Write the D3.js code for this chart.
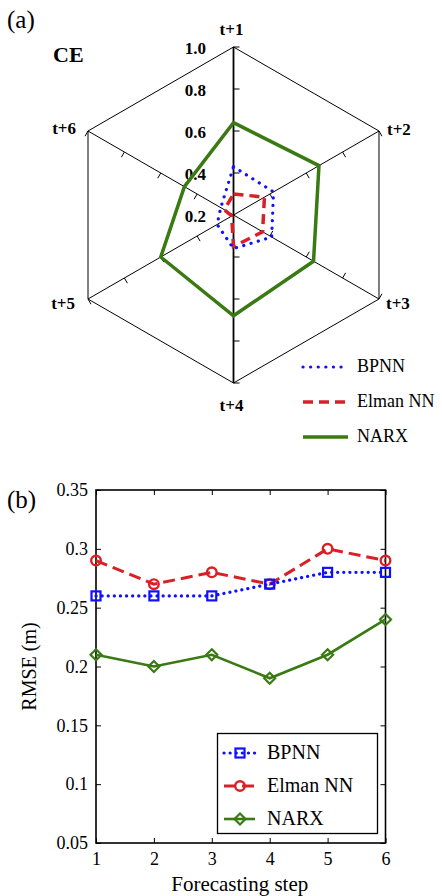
<!DOCTYPE html>
<html>
<head>
<meta charset="utf-8">
<script src="https://cdn.jsdelivr.net/npm/d3@7"></script>
<style>
  body { margin: 0; background: #fff; }
  svg text { font-family: "Liberation Serif", "Times New Roman", serif; fill: #000; }
</style>
</head>
<body>
<svg id="chart" width="442" height="896"></svg>
<script>
// ---- data (a) : CE radar
var radarSteps = ["t+1", "t+2", "t+3", "t+4", "t+5", "t+6"];
var ceBPNN  = [0.43, 0.42, 0.41, 0.36, 0.29, 0.27];
var ceElman = [0.30, 0.37, 0.36, 0.35, 0.21, 0.25];
var ceNARX  = [0.64, 0.67, 0.64, 0.68, 0.60, 0.47];
var radarTicks = [0.2, 0.4, 0.6, 0.8, 1.0];

// ---- data (b) : RMSE lines
var steps = [1, 2, 3, 4, 5, 6];
var rmseBPNN  = [0.26, 0.26, 0.26, 0.27, 0.28, 0.28];
var rmseElman = [0.29, 0.27, 0.28, 0.27, 0.30, 0.29];
var rmseNARX  = [0.21, 0.20, 0.21, 0.19, 0.21, 0.24];
var yTicks = [0.05, 0.1, 0.15, 0.2, 0.25, 0.3, 0.35];
var names = ["BPNN", "Elman NN", "NARX"];

var BLUE = "#1010ff", RED = "#d92027", GREEN = "#3a7a12";

var svg = d3.select("#chart");

/* ================= (a) radar ================= */
var cx = 233.5, cy = 215, R = 168;
var r = d3.scaleLinear().domain([0.2, 1.0]).range([0, R]);
var ang = function(i){ return i * Math.PI / 3; };   // 0 = up, clockwise
function pt(i, rad) {
    return [cx + rad * Math.sin(ang(i)), cy - rad * Math.cos(ang(i))];
}

svg.append("text").attr("x", 7).attr("y", 28)
    .style("font-size", "25px").text("(a)");
svg.append("text").attr("x", 53).attr("y", 62)
    .style("font-size", "22px").style("font-weight", "bold").text("CE");

var ga = svg.append("g");

// outer hexagon
var hex = radarSteps.map(function(d, i){ return pt(i, R); });
ga.append("path")
    .attr("d", "M" + hex.join("L") + "Z")
    .attr("fill", "none").attr("stroke", "#000").attr("stroke-width", 1);

// spokes + ticks
var tickSide = [1, 1, -1, -1, -1, -1];
radarSteps.forEach(function(d, i){
    var e = pt(i, R);
    ga.append("line")
        .attr("x1", cx).attr("y1", cy).attr("x2", e[0]).attr("y2", e[1])
        .attr("stroke", "#000").attr("stroke-width", (i % 3 == 0) ? 1.8 : 1);
    var a = ang(i);
    // perpendicular (screen) direction
    var px = Math.cos(a) * tickSide[i], py = Math.sin(a) * tickSide[i];
    radarTicks.slice(1).forEach(function(t){
        var p = pt(i, r(t));
        ga.append("line")
            .attr("x1", p[0]).attr("y1", p[1])
            .attr("x2", p[0] + px * 6).attr("y2", p[1] + py * 6)
            .attr("stroke", "#000").attr("stroke-width", 1);
    });
});

// radial tick labels
radarTicks.forEach(function(t){
    ga.append("text")
        .attr("x", 206).attr("y", cy - r(t) + 3)
        .attr("text-anchor", "end").attr("dominant-baseline", "middle")
        .style("font-size", "17px").style("font-weight", "bold")
        .text(d3.format(".1f")(t));
});

// axis labels
var labPos = [
    {dx: -2, dy: -16, anchor: "middle"},
    {dx: 8, dy: 0, anchor: "start"},
    {dx: 7, dy: 6, anchor: "start"},
    {dx: -2, dy: 24, anchor: "middle"},
    {dx: -13, dy: 6, anchor: "end"},
    {dx: -12, dy: -1, anchor: "end"}
];
radarSteps.forEach(function(d, i){
    var p = pt(i, R);
    ga.append("text")
        .attr("x", p[0] + labPos[i].dx).attr("y", p[1] + labPos[i].dy)
        .attr("text-anchor", labPos[i].anchor).attr("dominant-baseline", "middle")
        .style("font-size", "17px").style("font-weight", "bold")
        .text(d);
});

var radial = d3.lineRadial()
    .angle(function(d, i){ return ang(i); })
    .radius(function(d){ return r(d); })
    .curve(d3.curveLinearClosed);

var radarSeries = [
    {vals: ceNARX,  color: GREEN, width: 3.5, dash: null, cap: "butt"},
    {vals: ceElman, color: RED,   width: 3.5, dash: "10,6", cap: "butt"},
    {vals: ceBPNN,  color: BLUE,  width: 3.2, dash: "0.1,7.5", cap: "round"}
];
radarSeries.forEach(function(s){
    ga.append("path")
        .attr("transform", "translate(" + cx + "," + cy + ")")
        .attr("d", radial(s.vals))
        .attr("fill", "none").attr("stroke", s.color)
        .attr("stroke-width", s.width)
        .attr("stroke-dasharray", s.dash)
        .attr("stroke-linecap", s.cap)
        .attr("stroke-linejoin", "miter");
});

// radar legend
var legA = [
    {name: names[0], color: BLUE,  width: 3.2, dash: "0.1,7.5", cap: "round"},
    {name: names[1], color: RED,   width: 3.5, dash: "10,6", cap: "butt"},
    {name: names[2], color: GREEN, width: 3.5, dash: null, cap: "butt"}
];
legA.forEach(function(s, i){
    var ly = 367 + i * 35;
    ga.append("line").attr("x1", 303).attr("x2", 348).attr("y1", ly).attr("y2", ly)
        .attr("stroke", s.color).attr("stroke-width", s.width)
        .attr("stroke-dasharray", s.dash).attr("stroke-linecap", s.cap);
    ga.append("text").attr("x", 357).attr("y", ly + 1)
        .attr("dominant-baseline", "middle")
        .style("font-size", "18px").text(s.name);
});

/* ================= (b) RMSE ================= */
var pLeft = 96, pRight = 385.5, pTop = 490, pBottom = 843;
var x = d3.scaleLinear().domain([1, 6]).range([pLeft, pRight]);
var y = d3.scaleLinear().domain([0.05, 0.35]).range([pBottom, pTop]);

svg.append("text").attr("x", 7).attr("y", 508)
    .style("font-size", "25px").text("(b)");

var gb = svg.append("g");

var fmt = function(d){ return String(+d.toFixed(2)); };

var axL = gb.append("g").attr("transform", "translate(" + pLeft + ",0)")
    .call(d3.axisLeft(y).tickValues(yTicks).tickSizeInner(-5).tickSizeOuter(0)
        .tickPadding(8).tickFormat(fmt));
var axR = gb.append("g").attr("transform", "translate(" + pRight + ",0)")
    .call(d3.axisRight(y).tickValues(yTicks).tickSizeInner(-5).tickSizeOuter(0)
        .tickFormat(""));
var axB = gb.append("g").attr("transform", "translate(0," + pBottom + ")")
    .call(d3.axisBottom(x).tickValues(steps).tickSizeInner(-5).tickSizeOuter(0)
        .tickPadding(9).tickFormat(d3.format("d")));
var axT = gb.append("g").attr("transform", "translate(0," + pTop + ")")
    .call(d3.axisTop(x).tickValues(steps).tickSizeInner(-5).tickSizeOuter(0)
        .tickFormat(""));
[axL, axR, axB, axT].forEach(function(a){
    a.select(".domain").remove();
    a.selectAll(".tick line").attr("stroke", "#000").attr("stroke-width", 1);
    a.selectAll(".tick text").style("font-size", "18px")
        .style("font-family", "'Liberation Serif', serif").attr("fill", "#000");
});
gb.append("rect").attr("x", pLeft).attr("y", pTop)
    .attr("width", pRight - pLeft).attr("height", pBottom - pTop)
    .attr("fill", "none").attr("stroke", "#000").attr("stroke-width", 1.6);

gb.append("text").attr("x", (pLeft + pRight) / 2 - 1).attr("y", 886)
    .attr("text-anchor", "middle").attr("dominant-baseline", "middle")
    .style("font-size", "21px").text("Forecasting step");
gb.append("text")
    .attr("transform", "translate(31," + ((pTop + pBottom) / 2) + ") rotate(-90)")
    .attr("text-anchor", "middle").attr("dominant-baseline", "middle")
    .style("font-size", "20px").text("RMSE (m)");

var line = d3.line()
    .x(function(d, i){ return x(steps[i]); })
    .y(function(d){ return y(d); });

function marker(g, type, px, py, color) {
    if (type == "square") {
        g.append("rect").attr("x", px - 4.5).attr("y", py - 4.5)
            .attr("width", 9).attr("height", 9)
            .attr("fill", "none").attr("stroke", color).attr("stroke-width", 2.2);
    } else if (type == "circle") {
        g.append("circle").attr("cx", px).attr("cy", py).attr("r", 4.8)
            .attr("fill", "none").attr("stroke", color).attr("stroke-width", 2.4);
    } else {
        g.append("path")
            .attr("d", "M" + px + "," + (py - 5.5) + "L" + (px + 5.5) + "," + py +
                "L" + px + "," + (py + 5.5) + "L" + (px - 5.5) + "," + py + "Z")
            .attr("fill", "none").attr("stroke", color).attr("stroke-width", 2.2);
    }
}

var lineSeries = [
    {name: names[2], vals: rmseNARX,  color: GREEN, dash: null,   cap: "butt",  width: 2.6, mk: "diamond"},
    {name: names[1], vals: rmseElman, color: RED,   dash: "12,6", cap: "butt",  width: 3,   mk: "circle"},
    {name: names[0], vals: rmseBPNN,  color: BLUE,  dash: "0.1,6", cap: "round", width: 3.2, mk: "square"}
];
lineSeries.forEach(function(s){
    gb.append("path").attr("d", line(s.vals))
        .attr("fill", "none").attr("stroke", s.color).attr("stroke-width", s.width)
        .attr("stroke-dasharray", s.dash).attr("stroke-linecap", s.cap);
    s.vals.forEach(function(v, i){
        marker(gb, s.mk, x(steps[i]), y(v), s.color);
    });
});

// legend (b)
gb.append("rect").attr("x", 217.5).attr("y", 733.5).attr("width", 160).attr("height", 100)
    .attr("fill", "#fff").attr("stroke", "#000").attr("stroke-width", 1.3);
var legB = lineSeries.slice().reverse();
legB.forEach(function(s, i){
    var ly = 753 + i * 33;
    gb.append("line").attr("x1", 224).attr("x2", 255).attr("y1", ly).attr("y2", ly)
        .attr("stroke", s.color).attr("stroke-width", s.width)
        .attr("stroke-dasharray", s.dash).attr("stroke-linecap", s.cap);
    marker(gb, s.mk, 240, ly, s.color);
    gb.append("text").attr("x", 267).attr("y", ly + 1)
        .attr("dominant-baseline", "middle")
        .style("font-size", "20px").text(s.name);
});
</script>
</body>
</html>
